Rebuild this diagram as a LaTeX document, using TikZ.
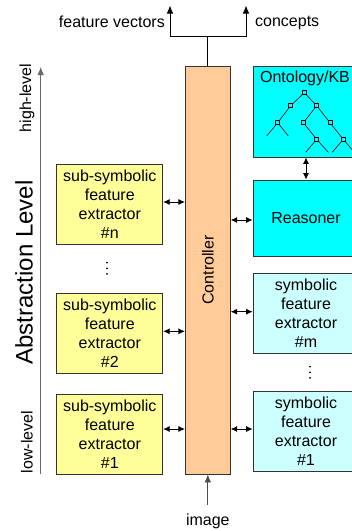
\documentclass[tikz,border=0pt]{standalone}
\usepackage{fontspec}
\setmainfont{Liberation Sans}
\usetikzlibrary{arrows.meta}
\definecolor{subyel}{HTML}{FFFF99}
\definecolor{ctrlor}{HTML}{FFCC99}
\definecolor{kbcyan}{HTML}{00FFFF}
\definecolor{symcyan}{HTML}{CCFFFF}
\definecolor{edge}{HTML}{333333}
\begin{document}
\begin{tikzpicture}[x=1pt,y=-1pt,
  txt/.style={font=\fontsize{16}{19}\selectfont, inner sep=0pt},
  box/.style={draw=edge, line width=0.8pt, inner sep=0pt, align=center,
              font=\fontsize{16}{19}\selectfont, minimum height=80pt, minimum width=106pt},
  subbox/.style={box, fill=subyel},
  symbox/.style={box, fill=symcyan},
  tip/.style={-{Latex[length=8pt,width=6.5pt]}, line width=0.8pt},
  dbl/.style={{Latex[length=6.5pt,width=6pt]}-{Latex[length=6.5pt,width=6pt]}, line width=0.8pt},
  tsq/.style={draw=black, fill=kbcyan, line width=0.5pt, minimum size=4pt, inner sep=0pt},
  tline/.style={line width=0.6pt}]
\useasboundingbox (0,0) rectangle (352,531);
\clip (0,0) rectangle (352,531);

% controller
\node[draw=edge, line width=0.8pt, fill=ctrlor, minimum width=45pt, minimum height=408pt, inner sep=0pt] (ctrl) at (207.8,270) {};
\node[txt, rotate=90] (ctrltxt) at (ctrl.center) {Controller};

% sub-symbolic boxes
\node[subbox] (subn) at (109.8,204) {sub-symbolic\\feature\\extractor\\\#n};
\node[subbox] (sub2) at (109.8,333.3) {sub-symbolic\\feature\\extractor\\\#2};
\node[subbox] (sub1) at (109.8,434) {sub-symbolic\\feature\\extractor\\\#1};

% right boxes
\node[box, fill=kbcyan, minimum height=91pt] (kb) at (306,111.5) {};
\node[txt, anchor=north] (kbtxt) at (305,71) {Ontology/KB};
\node[box, fill=kbcyan, minimum height=76pt] (reas) at (306,218) {Reasoner};
\node[symbox] (symm) at (306,313.3) {symbolic\\feature\\extractor\\\#m};
\node[symbox] (sym1) at (306,431) {symbolic\\feature\\extractor\\\#1};

% tree in ontology
\coordinate (r) at (304.3,92.7);
\coordinate (a) at (290.7,105.7);
\coordinate (aa) at (277.7,122.7);
\coordinate (b) at (316.7,105.7);
\coordinate (ba) at (303.3,122.7);
\coordinate (bab) at (316.7,139.3);
\coordinate (bb) at (330,122.7);
\coordinate (bbb) at (343.3,139.3);
\draw[tline] (r) -- (a) -- (aa) -- (266.7,136);
\draw[tline] (aa) -- (288.3,136);
\draw[tline] (r) -- (b) -- (ba) -- (bab) -- (305.7,152.3);
\draw[tline] (bab) -- (328.3,152.3);
\draw[tline] (b) -- (bb) -- (bbb) -- (332.3,152.3);
\draw[tline] (bbb) -- (354.3,152.3);
\draw[tline] (r) -- ++(0,-3);
\foreach \p in {r,a,aa,b,ba,bab,bb,bbb} \node[tsq] at (\p) {};

% double arrows
\draw[dbl] (kb.south) -- (reas.north);
\draw[dbl] ([yshift=2pt]subn.east) -- ([yshift=2pt]subn.east -| ctrl.west);
\draw[dbl] ([yshift=2pt]sub2.east) -- ([yshift=2pt]sub2.east -| ctrl.west);
\draw[dbl] ([yshift=5pt]sub1.east) -- ([yshift=5pt]sub1.east -| ctrl.west);
\draw[dbl] ([yshift=-2pt]reas.west) -- ([yshift=-2pt]reas.west -| ctrl.east);
\draw[dbl] ([yshift=1.6pt]symm.west) -- ([yshift=1.6pt]symm.west -| ctrl.east);
\draw[dbl] ([yshift=2pt]sym1.west) -- ([yshift=2pt]sym1.west -| ctrl.east);

% dots
\foreach \yy in {262.7,268.3,273.9} \fill (107,\yy) circle (1pt);
\foreach \yy in {366.7,372.3,377.9} \fill (310,\yy) circle (1pt);

% outputs
\coordinate (split) at (207.8,36);
\coordinate (fvc) at (170,36);
\coordinate (cc) at (246,36);
\coordinate (fvend) at (170,5.5);
\coordinate (ccend) at (246,5.5);
\draw[line width=0.8pt] (ctrl.north) -- (split);
\draw[tip] (split) -- (fvc) -- (fvend);
\draw[tip] (split) -- (cc) -- (ccend);
\node[txt, anchor=east] (fv) at (165,22) {feature vectors};
\node[txt, anchor=west] (cp) at (255,23) {concepts};

% image input
\node[txt] (img) at (207.8,521) {image};
\coordinate (imgstart) at (207.8,505);
\draw[-{Latex[length=8pt,width=6.5pt]}, line width=0.8pt, draw=black!70, fill=black] (imgstart) -- (ctrl.south);

% abstraction axis
\coordinate (axbot) at (40.7,474);
\coordinate (axtop) at (40.7,67);
\draw[-{Latex[length=8pt,width=6.5pt]}, line width=0.8pt, draw=black!60, fill=black] (axbot) -- (axtop);
\node[txt, rotate=90] (hl) at (27,98) {high-level};
\node[txt, rotate=90] (ll) at (27,442) {low-level};
\node[font=\fontsize{24}{28}\selectfont, inner sep=0pt, rotate=90] (abs) at (24,272.5) {Abstraction Level};
\end{tikzpicture}
\end{document}
